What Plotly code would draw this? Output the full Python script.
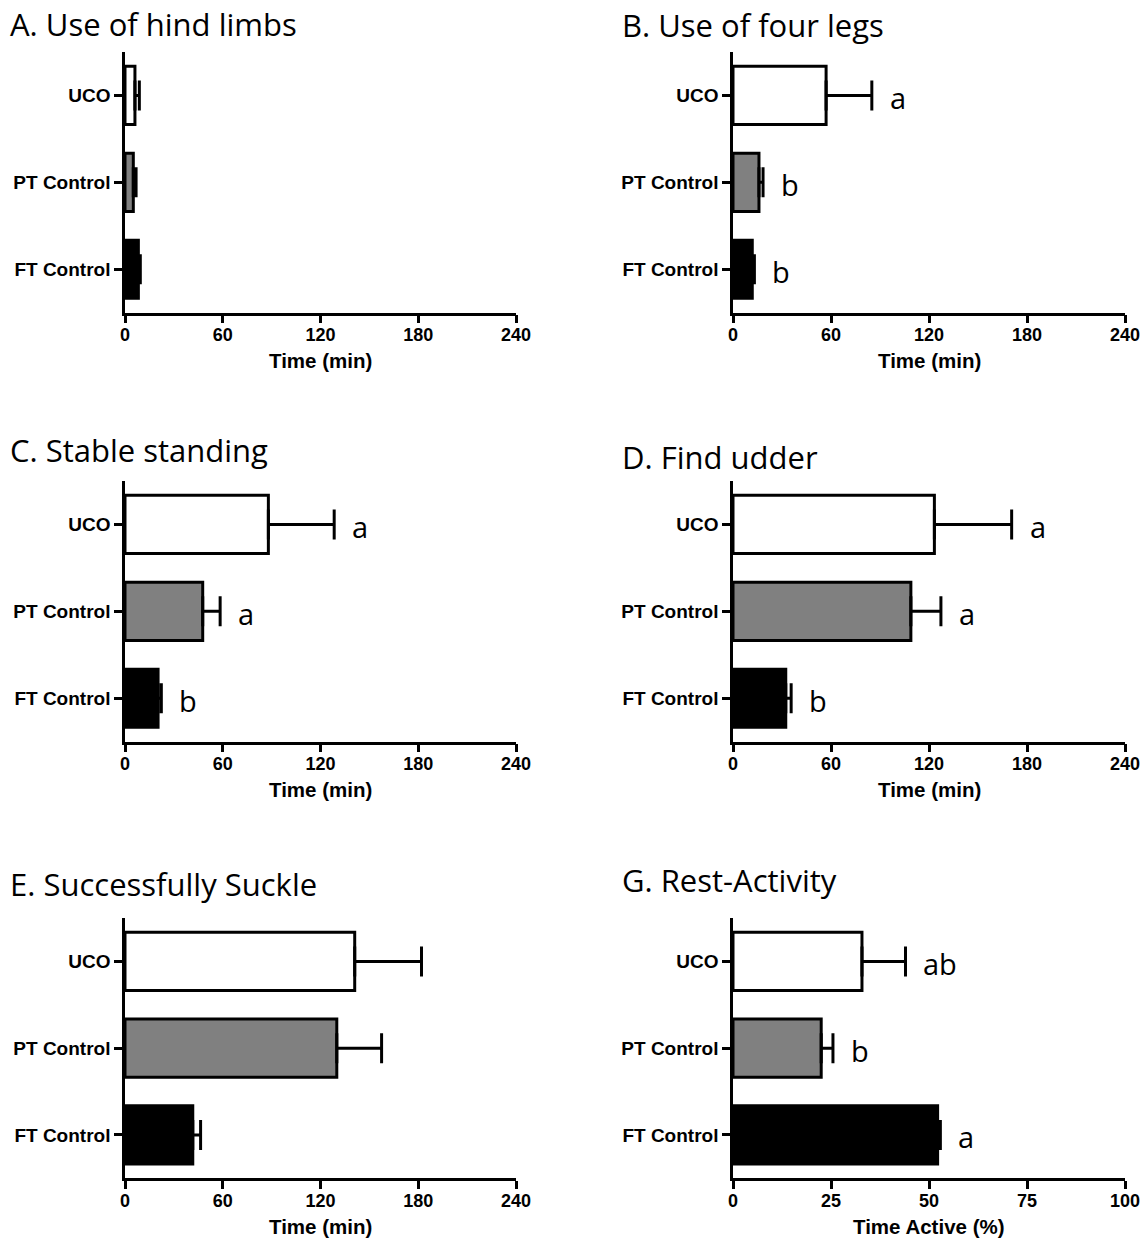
import plotly.graph_objects as go

W, H = 1141, 1240

categories = ["FT Control", "PT Control", "UCO"]
colors = ["#000000", "#808080", "#ffffff"]

# Panel data (order: FT, PT, UCO)
a_mean = [8.2, 5.1, 6.1]
a_err = [1.2, 1.7, 2.7]
b_mean = [11.8, 15.9, 57.0]
b_err = [1.3, 2.5, 28.0]
c_mean = [20.3, 47.7, 88.0]
c_err = [2.0, 10.7, 40.4]
d_mean = [32.3, 108.9, 123.3]
d_err = [3.3, 18.4, 47.3]
e_mean = [41.6, 130.0, 141.0]
e_err = [4.8, 27.5, 41.0]
g_mean = [52.2, 22.5, 32.9]
g_err = [0.7, 3.0, 11.1]

b_letters = ["b", "b", "a"]
c_letters = ["b", "a", "a"]
d_letters = ["b", "a", "a"]
g_letters = ["a", "b", "ab"]

time_ticks = [0, 60, 120, 180, 240]
pct_ticks = [0, 25, 50, 75, 100]

panels = [
    dict(title="A. Use of hind limbs", mean=a_mean, err=a_err, letters=None, ticks=time_ticks, xt="Time (min)", col=0, row=0, ty=22),
    dict(title="B. Use of four legs", mean=b_mean, err=b_err, letters=b_letters, ticks=time_ticks, xt="Time (min)", col=1, row=0, ty=22.5),
    dict(title="C. Stable standing", mean=c_mean, err=c_err, letters=c_letters, ticks=time_ticks, xt="Time (min)", col=0, row=1, ty=448),
    dict(title="D. Find udder", mean=d_mean, err=d_err, letters=d_letters, ticks=time_ticks, xt="Time (min)", col=1, row=1, ty=454.5),
    dict(title="E. Successfully Suckle", mean=e_mean, err=e_err, letters=None, ticks=time_ticks, xt="Time (min)", col=0, row=2, ty=882),
    dict(title="G. Rest-Activity", mean=g_mean, err=g_err, letters=g_letters, ticks=pct_ticks, xt="Time Active (%)", col=1, row=2, ty=877.5),
]

col_x = [(125, 516), (733, 1125)]
row_y = [(52, 312.7), (481, 741.7), (918, 1178.3)]
title_x = [8, 620]

fig = go.Figure()
annotations = []
xtick_font = dict(family="Liberation Sans, Arial, sans-serif", size=18, color="black", weight="bold")
ytick_font = dict(family="Liberation Sans, Arial, sans-serif", size=19, color="black", weight="bold")

for i, p in enumerate(panels):
    n = i + 1
    xa = "x" if n == 1 else f"x{n}"
    ya = "y" if n == 1 else f"y{n}"
    x0, x1 = col_x[p["col"]]
    yt, yb = row_y[p["row"]]
    fig.add_trace(go.Bar(
        x=p["mean"], y=categories, orientation="h",
        marker=dict(color=colors, line=dict(color="black", width=3)),
        error_x=dict(type="data", array=p["err"], symmetric=False, arrayminus=[0, 0, 0],
                     color="black", thickness=3, width=15),
        width=0.67, xaxis=xa, yaxis=ya, showlegend=False, hoverinfo="skip",
    ))
    xkey = "xaxis" if n == 1 else f"xaxis{n}"
    ykey = "yaxis" if n == 1 else f"yaxis{n}"
    fig.layout[xkey] = dict(
        domain=[x0 / W, x1 / W], anchor=ya, range=[0, p["ticks"][-1]],
        tickvals=p["ticks"], ticktext=[str(t) for t in p["ticks"]],
        showline=True, linecolor="black", linewidth=2.5, ticks="outside",
        ticklen=8, tickwidth=2.5, tickcolor="black", showgrid=False, zeroline=False,
        tickfont=xtick_font, fixedrange=True, automargin=False, ticklabelstandoff=-4,
    )
    fig.layout[ykey] = dict(
        domain=[1 - yb / H, 1 - yt / H], anchor=xa, type="category",
        categoryorder="array", categoryarray=categories, range=[-0.5, 2.5],
        showline=True, linecolor="black", linewidth=2.5, ticks="outside",
        ticklen=8, tickwidth=2.5, tickcolor="black", showgrid=False, zeroline=False,
        tickfont=ytick_font, fixedrange=True, automargin=False,
    )
    # panel title
    annotations.append(dict(
        text=p["title"], xref="paper", yref="paper", x=title_x[p["col"]] / W,
        y=1 - (p["ty"] + 2) / H, xanchor="left", yanchor="middle", showarrow=False,
        font=dict(family="Open Sans, Arial, sans-serif", size=31, color="black"),
    ))
    # axis title
    annotations.append(dict(
        text=p["xt"], xref="paper", yref="paper", x=(x0 + x1) / 2 / W,
        y=1 - (yb + 48) / H, xanchor="center", yanchor="middle", showarrow=False,
        font=dict(family="Liberation Sans, Arial, sans-serif", size=20.5, color="black", weight="bold"),
    ))
    # significance letters
    if p["letters"]:
        for cat, m, e, L in zip(categories, p["mean"], p["err"], p["letters"]):
            annotations.append(dict(
                text=L, xref=xa, yref=ya, x=m + e, y=cat, xanchor="left", yanchor="middle",
                xshift=16, yshift=-2, showarrow=False,
                font=dict(family="Open Sans, Arial, sans-serif", size=29, color="black"),
            ))

fig.update_layout(
    template="none",
    width=W, height=H, margin=dict(l=0, r=0, t=0, b=0, autoexpand=False),
    paper_bgcolor="white", plot_bgcolor="white",
    bargap=0.33, annotations=annotations,
)

post = ("document.documentElement.style.margin='0';document.body.style.margin='0';"
        "document.body.style.padding='0';document.documentElement.style.overflow='hidden';"
        "document.body.style.overflow='hidden';")
fig.write_html("out.html", post_script=post, config={"displayModeBar": False})
